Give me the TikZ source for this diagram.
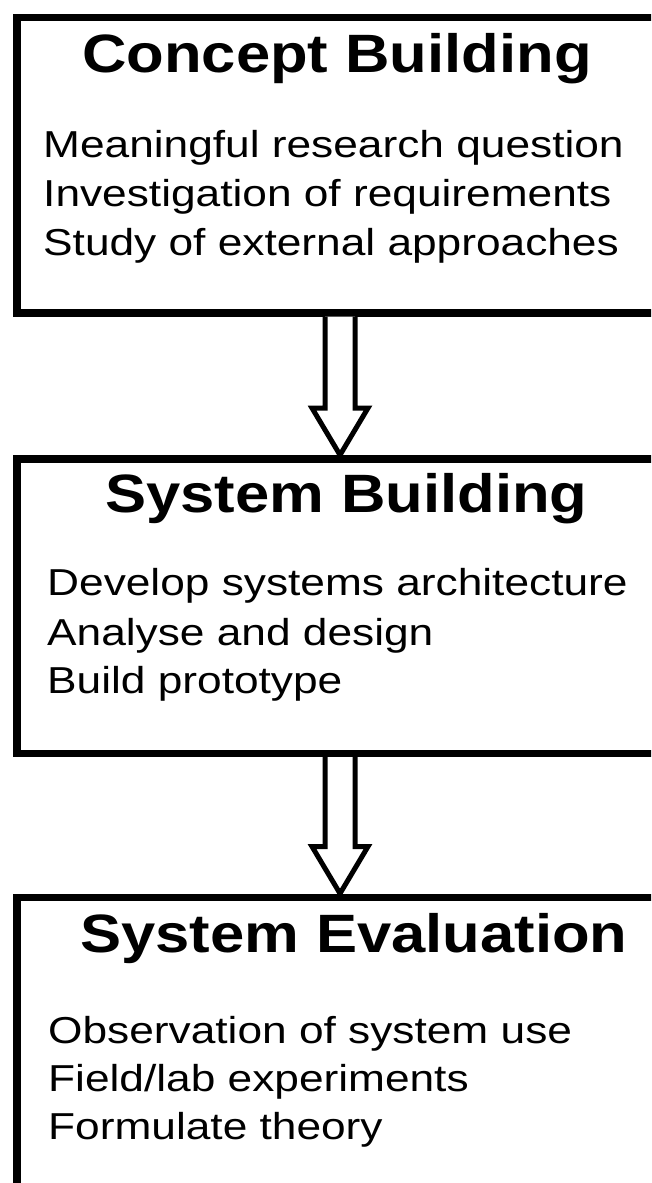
\documentclass[tikz,border=0pt]{standalone}
\usepackage{fontspec}
\setmainfont{Liberation Sans}
\usetikzlibrary{calc}
\newcommand{\ttltext}[1]{\scalebox{1.14}[1]{#1}}
\newcommand{\itmtext}[1]{\scalebox{1.18}[1]{#1}}
\begin{document}
\begin{tikzpicture}[x=1pt,y=1pt,
  box/.style={draw,line width=7.5pt,rectangle,inner sep=0pt},
  ttl/.style={anchor=base west,inner sep=0pt,font=\fontsize{54}{60}\selectfont\bfseries},
  itm/.style={anchor=base west,inner sep=0pt,font=\fontsize{37.5}{45}\selectfont},
  hollow/.style={draw,line width=5pt,line join=miter,fill=white}]
\useasboundingbox (0,0) rectangle (651,-1183);
\clip (0,0) rectangle (651,-1183);
% boxes
\node[box,minimum width=700pt,minimum height=295.5pt,anchor=north west] (b1) at (13,-13.5) {};
\node[box,minimum width=700pt,minimum height=294.5pt,anchor=north west] (b2) at (13,-455) {};
\node[box,minimum width=700pt,minimum height=320pt,anchor=north west] (b3) at (13,-893.5) {};
\coordinate (ax) at (340,0);
% texts box 1
\node[ttl] (t1) at (82,-72) {\ttltext{Concept Building}};
\node[itm] (i11) at (43,-157.5) {\itmtext{Meaningful research question}};
\node[itm] (i12) at (43,-206) {\itmtext{Investigation of requirements}};
\node[itm] (i13) at (43,-255) {\itmtext{Study of external approaches}};
% box 2
\node[ttl] (t2) at (105,-512) {\ttltext{System Building}};
\node[itm] (i21) at (47,-595) {\itmtext{Develop systems architecture}};
\node[itm] (i22) at (47,-645) {\itmtext{Analyse and design}};
\node[itm] (i23) at (47,-693) {\itmtext{Build prototype}};
% box 3
\node[ttl] (t3) at (80,-952) {\ttltext{System Evaluation}};
\node[itm] (i31) at (48,-1043) {\itmtext{Observation of system use}};
\node[itm] (i32) at (48,-1091) {\itmtext{Field/lab experiments}};
\node[itm] (i33) at (48,-1139) {\itmtext{Formulate theory}};
% arrows
\foreach \a/\b in {b1/b2,b2/b3}{
  \draw[hollow]
    ($(\a.south -| ax)+(-15,0)$) -- ($(\b.north -| ax)+(-15,47)$) -- ($(\b.north -| ax)+(-28,47)$)
    -- (\b.north -| ax) -- ($(\b.north -| ax)+(28,47)$) -- ($(\b.north -| ax)+(15,47)$)
    -- ($(\a.south -| ax)+(15,0)$);
}
\end{tikzpicture}
\end{document}
